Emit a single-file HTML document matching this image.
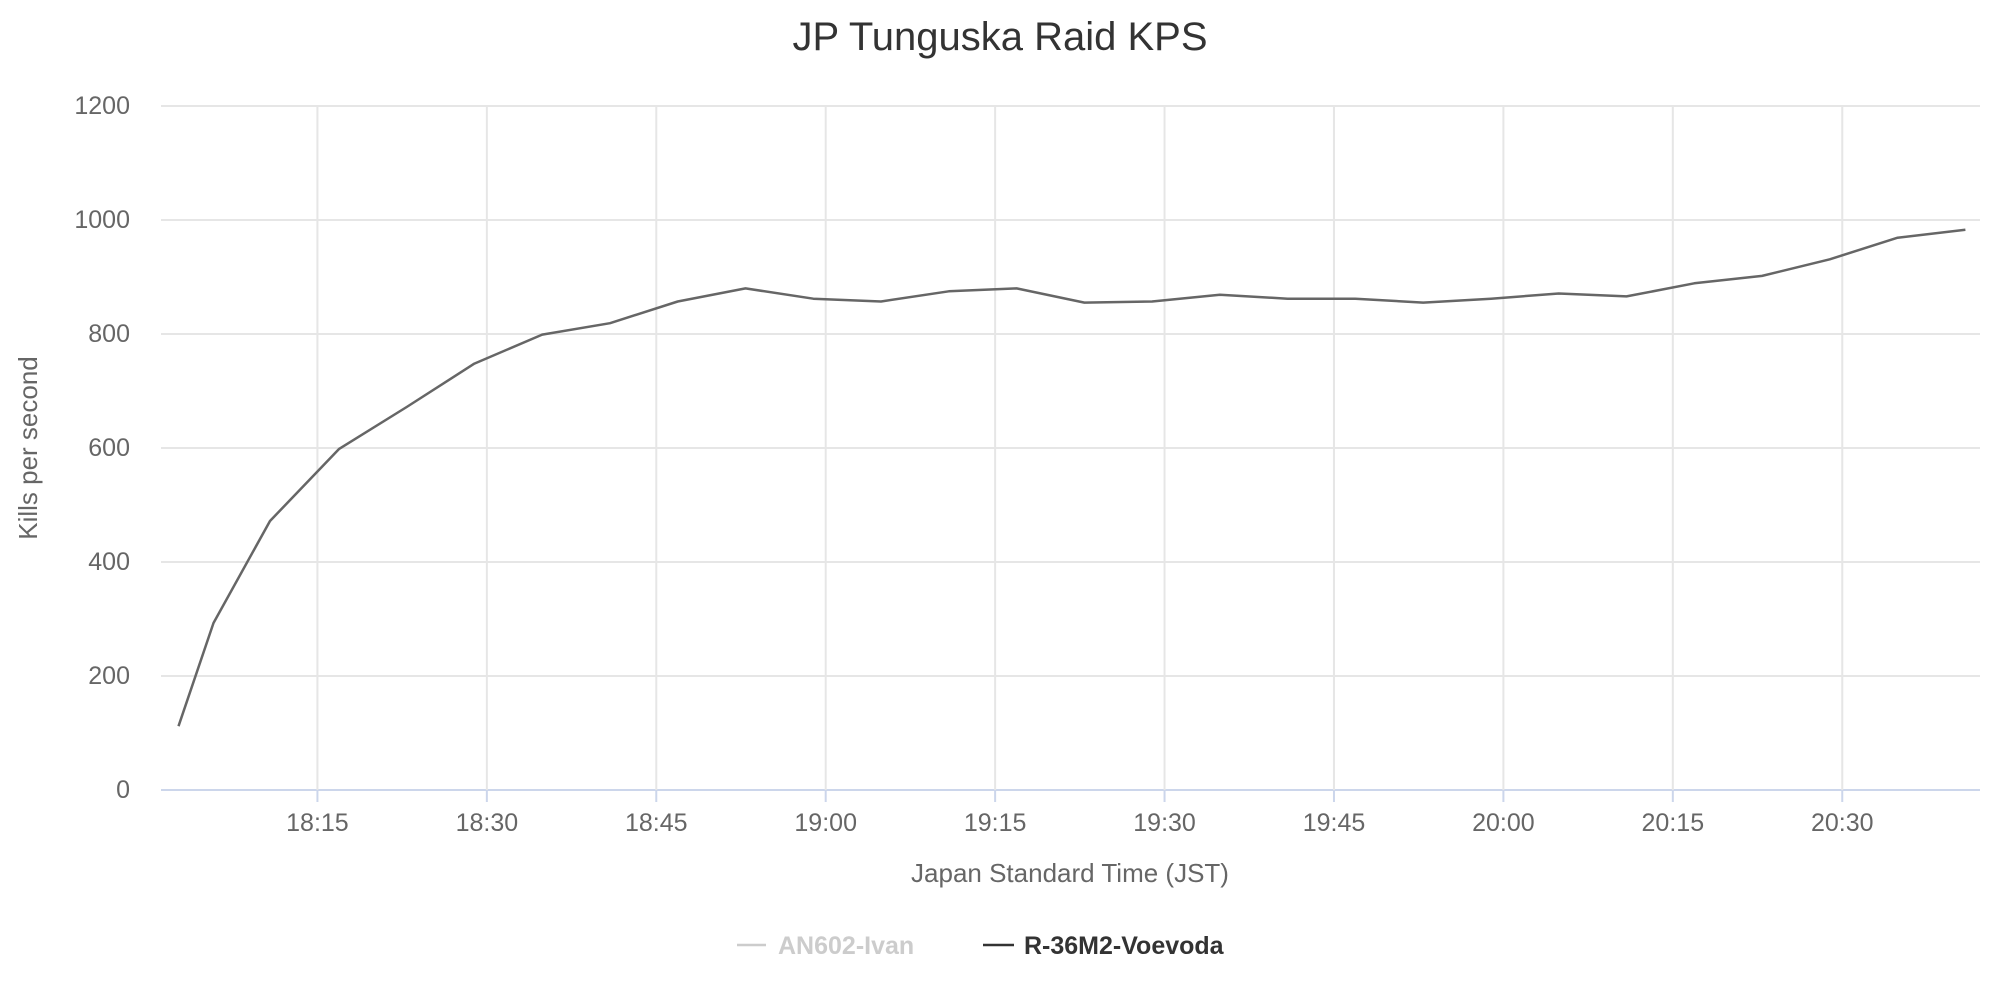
<!DOCTYPE html>
<html><head><meta charset="utf-8"><style>
html,body{margin:0;padding:0;background:#fff;}
svg{display:block;font-family:"Liberation Sans",sans-serif;}
</style></head><body>
<svg id="chart" width="2000" height="1000">
<text x="1000" y="50" text-anchor="middle" font-size="40" fill="#333">JP Tunguska Raid KPS</text>
<g id="grid"></g>
<g id="yticks"></g>
<g id="xticks"></g>
<text transform="translate(37,448) rotate(-90)" text-anchor="middle" font-size="26" fill="#666">Kills per second</text>
<text x="1070" y="882" text-anchor="middle" font-size="26" fill="#666">Japan Standard Time (JST)</text>
<g id="series"></g>
<g>
<line x1="737" y1="945" x2="766" y2="945" stroke="#ccc" stroke-width="2.5"/>
<text x="778" y="954" font-size="25" font-weight="bold" fill="#ccc">AN602-Ivan</text>
</g>
<g>
<line x1="983" y1="945" x2="1014" y2="945" stroke="#333" stroke-width="2.5"/>
<text x="1024" y="954" font-size="25" font-weight="bold" fill="#333">R-36M2-Voevoda</text>
</g>
</svg>
<script>
// minutes after 18:00
const times = [2.7,5.8,10.8,16.9,22.9,28.9,34.9,40.9,46.9,52.9,58.9,64.9,70.9,76.9,82.9,88.9,94.9,100.9,106.9,112.9,118.9,124.9,130.9,136.9,142.9,148.9,154.9,160.9];
const kps = [112,293,472,598,672,748,799,819,857,880,862,857,875,880,855,857,869,862,862,855,862,871,866,889,902,931,969,983];
const yTicks = [0,200,400,600,800,1000,1200];
const xTickMins = [15,30,45,60,75,90,105,120,135,150];
const xTickLabels = ["18:15","18:30","18:45","19:00","19:15","19:30","19:45","20:00","20:15","20:30"];

const L=161,R=1980,T=106,B=790;
const xS = m => 148 + m*11.295;
const yS = v => B - (v/1200)*(B-T);
const NS="http://www.w3.org/2000/svg";
function mk(tag,attrs,parent){const e=document.createElementNS(NS,tag);for(const k in attrs)e.setAttribute(k,attrs[k]);parent.appendChild(e);return e;}
const grid=document.getElementById('grid'),yt=document.getElementById('yticks'),xt=document.getElementById('xticks'),ser=document.getElementById('series');
yTicks.forEach(v=>{
  const y=yS(v);
  const gl=mk('line',{x1:L,x2:R,y1:y,y2:y,stroke:v===0?'#ccd6eb':'#e6e6e6','stroke-width':2},grid);
  
  
  const t=mk('text',{x:130,y:y+8,'text-anchor':'end','font-size':25,fill:'#666'},yt);
  t.textContent=v;
  
  
});
xTickMins.forEach((m,i)=>{
  const x=xS(m);
  const gl=mk('line',{x1:x,x2:x,y1:T,y2:B,stroke:'#e6e6e6','stroke-width':2},grid);
  
  
  const tk=mk('line',{x1:x,x2:x,y1:B,y2:B+12,stroke:'#ccd6eb','stroke-width':2},grid);
  
  
  const t=mk('text',{x:x,y:831,'text-anchor':'middle','font-size':25,fill:'#666'},xt);
  t.textContent=xTickLabels[i];
  
  
});
const d=times.map((m,i)=>(i?'L':'M')+xS(m).toFixed(1)+','+yS(kps[i]).toFixed(1)).join(' ');
const p=mk('path',{d:d,fill:'none',stroke:'#666','stroke-width':2.5,'stroke-linejoin':'round'},ser);


</script>
</body></html>
